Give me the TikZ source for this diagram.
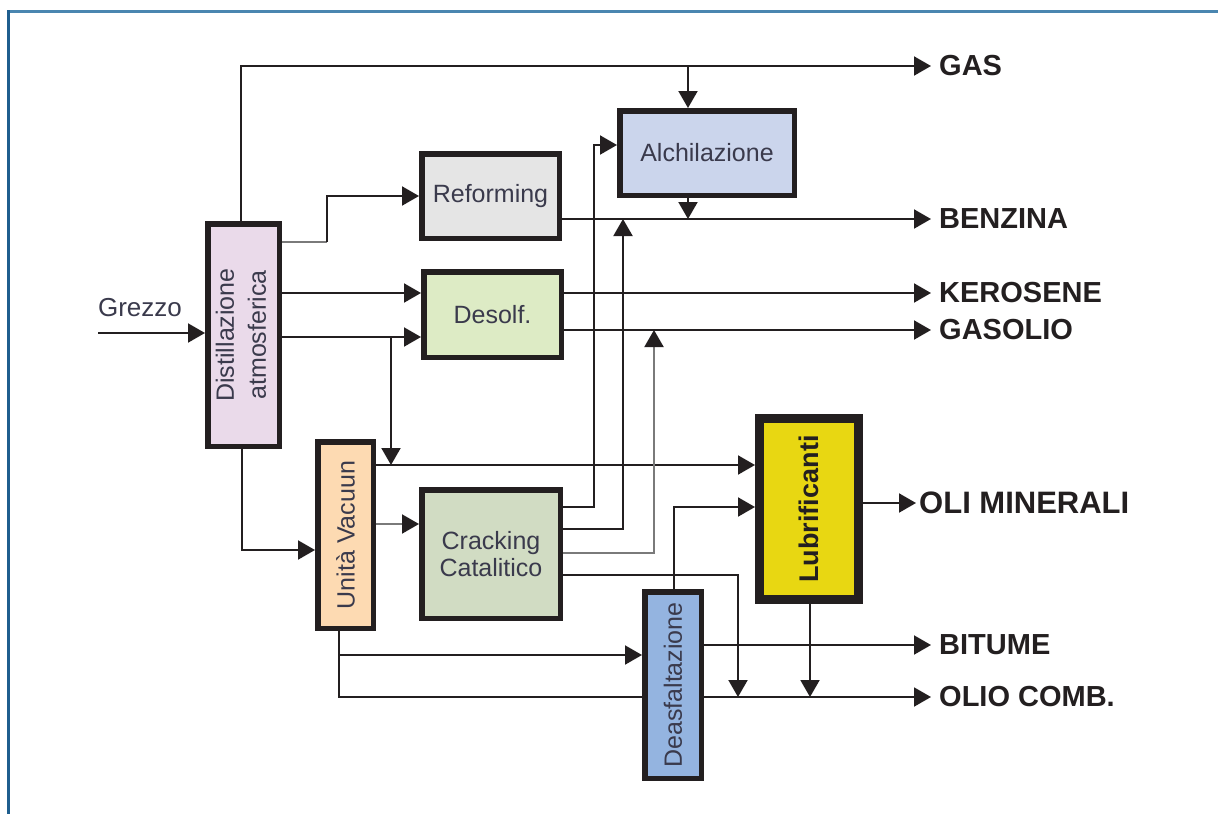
\documentclass[tikz,border=0pt]{standalone}
\usepackage{fontspec}
\usepackage{graphicx}
\setmainfont{Liberation Sans}
\usetikzlibrary{arrows.meta,calc}
\definecolor{ink}{HTML}{231F20}
\definecolor{boxtext}{HTML}{3A3A4C}
\definecolor{lgray}{HTML}{7A7A7A}
\definecolor{frameA}{HTML}{4A86B0}
\definecolor{frameB}{HTML}{1F5E8E}
\definecolor{cdist}{HTML}{EADAEA}
\definecolor{cref}{HTML}{E5E5E5}
\definecolor{cdes}{HTML}{DDEBC5}
\definecolor{calch}{HTML}{CBD5EC}
\definecolor{cvac}{HTML}{FDDAB2}
\definecolor{ccra}{HTML}{D1DCC3}
\definecolor{club}{HTML}{E8D712}
\definecolor{cdea}{HTML}{94B4E0}
\begin{document}
\begin{tikzpicture}[x=1pt,y=-1pt,
  box/.style={draw=ink,line width=5.5pt,inner sep=0pt,align=center,
    font=\fontsize{25}{32}\selectfont,text=boxtext},
  flow/.style={draw=ink,line width=2pt,-{Triangle[length=17pt,width=19pt]}},
  gflow/.style={draw=lgray,line width=2pt,-{Triangle[length=17pt,width=19pt,color=ink]}},
  plain/.style={draw=ink,line width=2pt},
  gplain/.style={draw=lgray,line width=2pt},
  outlbl/.style={anchor=west,inner xsep=8pt,inner ysep=0pt,text=ink,
    font=\fontsize{29}{32}\selectfont\bfseries},
  framel/.style={line width=3pt}]
\useasboundingbox (0,0) rectangle (1218,814);
\fill[white] (0,0) rectangle (1218,814);
\draw[framel,draw=frameA] (8,11) -- (1218,11);
\draw[framel,draw=frameB] (8,10) -- (8,814);

% boxes
\node[box,fill=cdist,minimum width=71.5pt,minimum height=222.5pt] (dist) at (243.5,335)
  {\rotatebox{90}{\begin{tabular}{@{}c@{}}Distillazione\\atmosferica\end{tabular}}};
\node[box,fill=cref,minimum width=137.5pt,minimum height=84.5pt] (ref) at (490.5,196) {Reforming};
\node[box,fill=cdes,minimum width=137.5pt,minimum height=85.5pt] (des) at (492.5,314.5) {Desolf.};
\node[box,fill=calch,minimum width=174.5pt,minimum height=84.5pt] (alc) at (707,153) {Alchilazione};
\node[box,fill=cvac,minimum width=55.5pt,minimum height=186.5pt] (vac) at (345.5,535)
  {\rotatebox{90}{Unità Vacuun}};
\node[box,fill=ccra,minimum width=138.5pt,minimum height=128.5pt,
  font=\fontsize{25}{27}\selectfont] (cra) at (491,554) {Cracking\\Catalitico};
\node[box,fill=club,line width=9pt,minimum width=99pt,minimum height=181pt,
  text=ink,font=\fontsize{27}{32}\selectfont\bfseries] (lub) at (809,509)
  {\rotatebox{90}{Lubrificanti}};
\node[box,fill=cdea,minimum width=56.5pt,minimum height=186.5pt] (dea) at (673,685)
  {\rotatebox{90}{Deasfaltazione}};

% output labels
\node[outlbl] (gas) at (931,66) {GAS};
\node[outlbl] (benz) at (931,219) {BENZINA};
\node[outlbl] (kero) at (931,293) {KEROSENE};
\node[outlbl] (gasol) at (931,330) {GASOLIO};
\node[outlbl,inner xsep=3pt,font=\fontsize{31}{34}\selectfont\bfseries] (olim) at (916,503) {OLI MINERALI};
\node[outlbl] (bitu) at (931,645) {BITUME};
\node[outlbl] (oliocomb) at (931,697) {OLIO COMB.};
\node[text=boxtext,font=\fontsize{26}{30}\selectfont,inner sep=0pt] (grezzo) at (140,308) {Grezzo};

% coordinates
\coordinate (g0) at (98,333);
\coordinate (ja) at (688,66);
\coordinate (r1) at (327,242);
\coordinate (k1) at (0,293);
\coordinate (k2) at (0,337);
\coordinate (b1) at (391,337);
\coordinate (b2) at (391,465);
\coordinate (v1) at (242,550);
\coordinate (l1) at (0,465);
\coordinate (c0) at (0,524);
\coordinate (a1) at (594,507);
\coordinate (a2) at (594,145);
\coordinate (p1) at (623,529);
\coordinate (h1) at (654,553);
\coordinate (q1) at (738,575);
\coordinate (s1) at (339,697);
\coordinate (s2) at (339,655);
\coordinate (t1) at (674,507);
\coordinate (u1) at (810,0);

% connectors
\draw[flow] (g0) -- (g0 -| dist.west);
\draw[flow] ($(dist.north)+(-2.5,0)$) |- (gas.west);
\draw[flow] (ja) -- (ja |- alc.north);
\draw[gplain] (dist.east |- r1) -- (r1);
\draw[flow] (r1) |- (ref.west);
\draw[flow] (ref.east |- benz.west) -- (benz.west);
\draw[flow] (ja |- alc.south) -- (ja |- benz.west);
\draw[flow] (dist.east |- k1) -- (des.west |- k1);
\draw[flow] (dist.east |- k2) -- (des.west |- k2);
\draw[flow] (b1) -- (b2);
\draw[flow] (des.east |- kero.west) -- (kero.west);
\draw[flow] (des.east |- gasol.west) -- (gasol.west);
\draw[flow] (dist.south -| v1) |- (vac.west |- v1);
\draw[flow] (vac.east |- l1) -- (lub.west |- l1);
\draw[gflow] (vac.east |- c0) -- (cra.west |- c0);
\draw[flow] (cra.east |- a1) -- (a1) -- (a2) -- (alc.west |- a2);
\draw[flow] (cra.east |- p1) -- (p1) -- (p1 |- benz.west);
\draw[gflow] (cra.east |- h1) -- (h1) -- (h1 |- gasol.west);
\draw[flow] (cra.east |- q1) -- (q1) -- (q1 |- oliocomb.west);
\draw[plain] ($(vac.south)+(-6.5,0)$) -- (s1) -- (dea.west |- s1);
\draw[flow] (dea.east |- s1) -- (oliocomb.west);
\draw[flow] (s2) -- (dea.west |- s2);
\draw[flow] (dea.north -| t1) -- (t1) -- (lub.west |- t1);
\draw[flow] (dea.east |- bitu.west) -- (bitu.west);
\draw[flow] (lub.south -| u1) -- (u1 |- oliocomb.west);
\draw[flow] (lub.east |- olim.west) -- (olim.west);
\end{tikzpicture}
\end{document}
